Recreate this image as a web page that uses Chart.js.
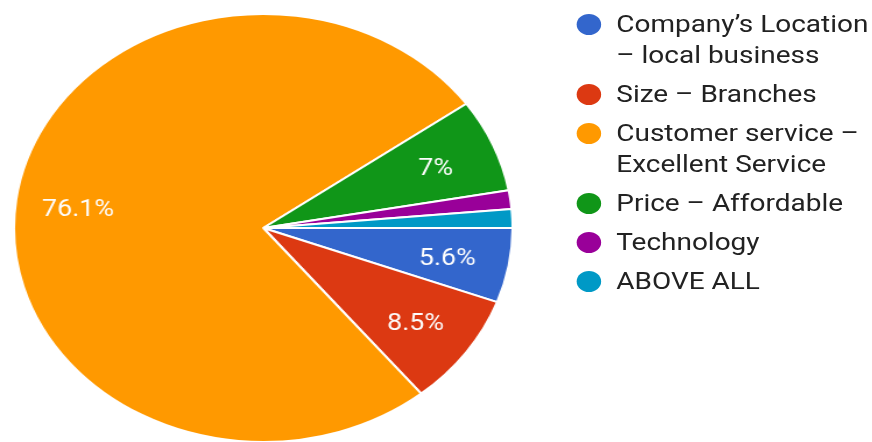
<!DOCTYPE html>
<html>
<head>
<meta charset="utf-8">
<script src="https://cdn.jsdelivr.net/npm/chart.js@4.4.1/dist/chart.umd.min.js"></script>
<style>
  html, body { margin: 0; padding: 0; background: #fff; }
  body { width: 872px; height: 442px; overflow: hidden; }
  /* the whole figure is drawn at normal proportions, then widened */
  #stage {
    position: relative;
    width: 749px;
    height: 442px;
    transform: scaleX(1.165);
    transform-origin: 0 0;
  }
  #pieBox { position: absolute; left: 11px; top: 12.5px; width: 430px; height: 430px; }
  #legend {
    position: absolute;
    left: 495px;
    top: 8.5px;
    margin: 0;
    padding: 0;
    list-style: none;
    font-family: Roboto, "Noto Sans", sans-serif;
    font-size: 24px;
    line-height: 31px;
    color: #222222;
  }
  #legend li { position: relative; padding-left: 34px; margin-bottom: 8px; }
  #legend .dot {
    position: absolute;
    left: 0;
    top: 5px;
    width: 21px;
    height: 21px;
    border-radius: 50%;
  }
</style>
</head>
<body>
<div id="stage">
  <div id="pieBox"><canvas id="pie"></canvas></div>
  <ul id="legend"></ul>
</div>
<script>
'use strict';

const categories = [
  ['Company\u2019s Location', '\u2013 local business'],
  ['Size \u2013 Branches'],
  ['Customer service \u2013', 'Excellent Service'],
  ['Price \u2013 Affordable'],
  ['Technology'],
  ['ABOVE ALL']
];
// number of responses per answer (71 in total)
const responses = [4, 6, 54, 5, 1, 1];
const colors = ['#3366CC', '#DC3912', '#FF9900', '#109618', '#990099', '#0099C6'];

const total = responses.reduce((a, b) => a + b, 0);

function pctLabel(v) {
  return +(v / total * 100).toFixed(1) + '%';
}

// percentage text inside the bigger slices
const sliceLabels = {
  id: 'sliceLabels',
  afterDatasetsDraw(chart) {
    const ctx = chart.ctx;
    const meta = chart.getDatasetMeta(0);
    ctx.save();
    ctx.font = '23px Roboto, "Noto Sans", sans-serif';
    ctx.fillStyle = '#fdfdfd';
    ctx.textAlign = 'center';
    ctx.textBaseline = 'middle';
    meta.data.forEach((arc, i) => {
      const v = responses[i];
      if (v / total < 0.05) return;
      const p = arc.getProps(['x', 'y', 'startAngle', 'endAngle', 'outerRadius'], true);
      const mid = (p.startAngle + p.endAngle) / 2;
      const r = p.outerRadius * 0.75;
      // digits sit a little above the em-box middle, nudge them down
      ctx.fillText(pctLabel(v), p.x + Math.cos(mid) * r, p.y + Math.sin(mid) * r + 3);
    });
    ctx.restore();
  }
};

const ctxP = document.getElementById('pie').getContext('2d');

const chart = new Chart(ctxP, {
  type: 'pie',
  data: {
    labels: categories,
    datasets: [{
      data: responses,
      backgroundColor: colors,
      hoverBackgroundColor: colors,
      borderColor: '#FFFFFF',
      borderWidth: 2
    }]
  },
  options: {
    responsive: true,
    maintainAspectRatio: false,
    animation: false,
    rotation: 90,
    layout: { padding: 0 },
    plugins: {
      legend: { display: false },
      tooltip: { enabled: true }
    }
  },
  plugins: [sliceLabels]
});

// legend list built from the same arrays
const legendEl = document.getElementById('legend');
categories.forEach((lines, i) => {
  const li = document.createElement('li');
  const dot = document.createElement('span');
  dot.className = 'dot';
  dot.style.background = colors[i];
  li.appendChild(dot);
  lines.forEach(t => {
    const d = document.createElement('div');
    d.textContent = t;
    li.appendChild(d);
  });
  legendEl.appendChild(li);
});
</script>
</body>
</html>
